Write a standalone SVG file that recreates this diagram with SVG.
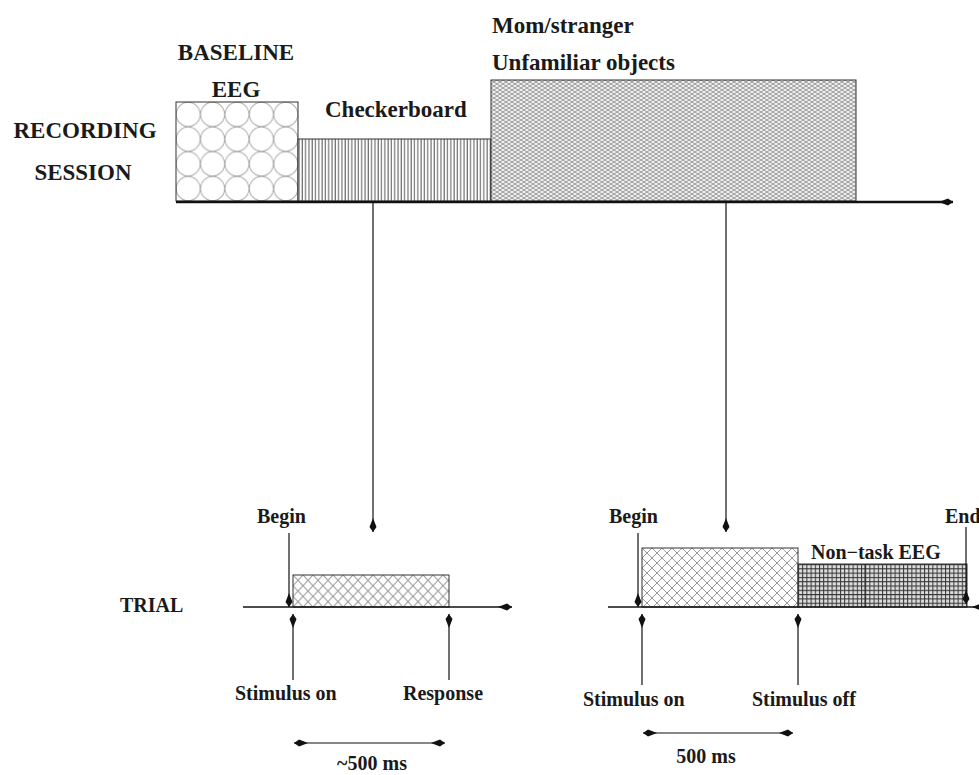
<svg xmlns="http://www.w3.org/2000/svg" width="979" height="775" viewBox="0 0 979 775">
<style>
text{font-family:"Liberation Serif","Times New Roman",serif;font-weight:bold;fill:#1a1a1a}
.big{font-size:23px}
.sm{font-size:20px}
.box{stroke:#333;stroke-width:1}
.ax{stroke:#111;fill:none}
.conn{stroke:#111;stroke-width:1.2;fill:none}
</style>
<defs>
<marker id="ah" viewBox="-15 -4 16 8" refX="0" refY="0" markerWidth="16" markerHeight="8" markerUnits="userSpaceOnUse" orient="auto-start-reverse">
<path d="M0,0 L-5,-3.5 L-14,0 L-5,3.5 Z" fill="#111"/>
</marker>
<pattern id="circ" patternUnits="userSpaceOnUse" x="176" y="102" width="24.4" height="24.75">
<rect width="24.4" height="24.75" fill="#fff"/>
<ellipse cx="12.2" cy="12.375" rx="12" ry="12.2" fill="none" stroke="#aaa" stroke-width="1"/>
</pattern>
<pattern id="vl" patternUnits="userSpaceOnUse" x="298" y="0" width="3.3" height="10">
<rect width="3.3" height="10" fill="#fff"/>
<line x1="1" y1="0" x2="1" y2="10" stroke="#555" stroke-width="1"/>
</pattern>
<pattern id="fine" patternUnits="userSpaceOnUse" x="491" y="80" width="6" height="4">
<rect width="6" height="4" fill="#f0f0f0"/>
<path d="M0,0 L6,4 M0,4 L6,0" stroke="#999" stroke-width="1"/>
</pattern>
<pattern id="dia" patternUnits="userSpaceOnUse" x="293" y="575" width="10" height="10.7">
<rect width="10" height="10.7" fill="#fff"/>
<path d="M0,0 L10,10.7 M10,0 L0,10.7" stroke="#999" stroke-width="1"/>
</pattern>
<pattern id="dia2" patternUnits="userSpaceOnUse" x="642" y="548" width="10" height="10">
<rect width="10" height="10" fill="#fff"/>
<path d="M0,0 L10,10 M10,0 L0,10" stroke="#999" stroke-width="1"/>
</pattern>
<pattern id="grid" patternUnits="userSpaceOnUse" x="798" y="564" width="4.2" height="4.3">
<rect width="4.2" height="4.3" fill="#ddd"/>
<path d="M0.5,0 V4.3 M0,0.5 H4.2" stroke="#333" stroke-width="1"/>
</pattern>
</defs>

<g id="labels-left">
<text class="big" x="85" y="138" text-anchor="middle">RECORDING</text>
<text class="big" x="83" y="180" text-anchor="middle">SESSION</text>
<text class="sm" x="120" y="612">TRIAL</text>
</g>

<g id="baseline-eeg">
<rect class="box" x="176" y="102" width="122" height="99" fill="url(#circ)"/>
<text class="big" x="236" y="60" text-anchor="middle">BASELINE</text>
<text class="big" x="236" y="97" text-anchor="middle">EEG</text>
</g>
<g id="checkerboard">
<rect class="box" x="298" y="139" width="193" height="62" fill="url(#vl)"/>
<text class="big" x="325" y="117">Checkerboard</text>
</g>
<g id="mom-stranger">
<rect class="box" x="491" y="80" width="365" height="121" fill="url(#fine)"/>
<text class="big" x="492" y="33">Mom/stranger</text>
<text class="big" x="492" y="70">Unfamiliar objects</text>
</g>

<g id="trial1">
<rect class="box" x="293" y="575" width="156" height="32" fill="url(#dia)"/>
<text class="sm" x="257" y="523">Begin</text>
<text class="sm" x="235" y="700">Stimulus on</text>
<text class="sm" x="403" y="700">Response</text>
<text class="sm" x="372" y="770" text-anchor="middle">~500 ms</text>
</g>

<g id="trial2">
<rect class="box" x="642" y="548" width="156" height="59" fill="url(#dia2)"/>
<rect class="box" x="798" y="564" width="169" height="43" fill="url(#grid)"/>
<line x1="865" y1="564" x2="865" y2="607" stroke="#222" stroke-width="1"/>
<text class="sm" x="609" y="523">Begin</text>
<text class="sm" x="945" y="523">End</text>
<text class="sm" x="811" y="559">Non−task EEG</text>
<text class="sm" x="583" y="706">Stimulus on</text>
<text class="sm" x="752" y="706">Stimulus off</text>
<text class="sm" x="706" y="763" text-anchor="middle">500 ms</text>
</g>

<g id="connectors">
<line class="ax" x1="176" y1="202" x2="953" y2="202" stroke-width="2.5" marker-end="url(#ah)"/>
<line class="conn" x1="373" y1="202" x2="373" y2="532" marker-end="url(#ah)"/>
<line class="conn" x1="726" y1="202" x2="726" y2="532" marker-end="url(#ah)"/>

<line class="ax" x1="243" y1="607" x2="512" y2="607" stroke-width="1.5" marker-end="url(#ah)"/>
<line class="conn" x1="289" y1="533" x2="289" y2="607" marker-end="url(#ah)"/>
<line class="conn" x1="293" y1="680" x2="293" y2="614" marker-end="url(#ah)"/>
<line class="conn" x1="449" y1="680" x2="449" y2="614" marker-end="url(#ah)"/>
<line class="conn" x1="294" y1="743" x2="445" y2="743" marker-start="url(#ah)" marker-end="url(#ah)"/>

<line class="ax" x1="608" y1="607" x2="986" y2="607" stroke-width="1.5" marker-end="url(#ah)"/>
<line class="conn" x1="638" y1="533" x2="638" y2="607" marker-end="url(#ah)"/>
<line class="conn" x1="966" y1="527" x2="966" y2="604" marker-end="url(#ah)"/>
<line class="conn" x1="642" y1="685" x2="642" y2="614" marker-end="url(#ah)"/>
<line class="conn" x1="798" y1="685" x2="798" y2="614" marker-end="url(#ah)"/>
<line class="conn" x1="643" y1="733" x2="793" y2="733" marker-start="url(#ah)" marker-end="url(#ah)"/>
</g>
</svg>
